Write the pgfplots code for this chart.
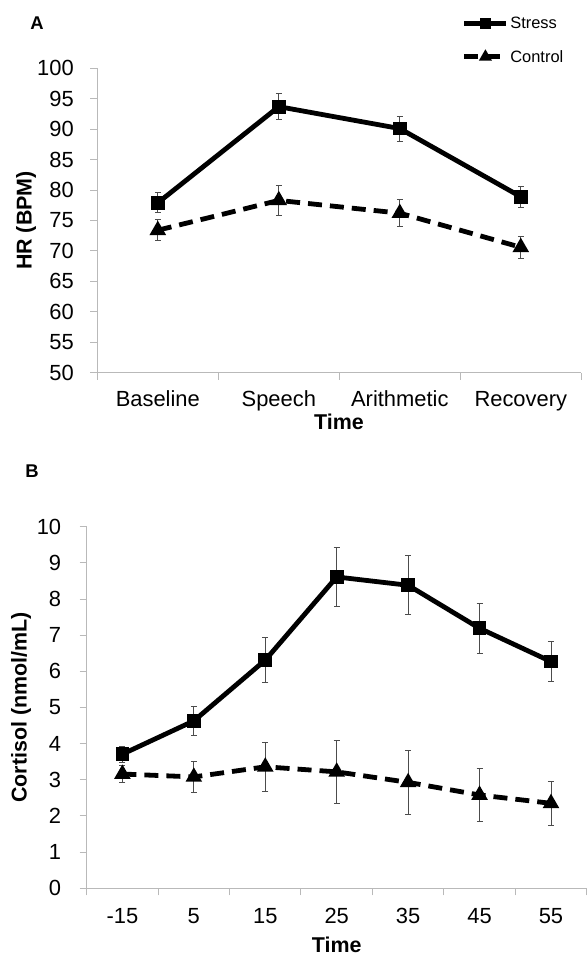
\documentclass[border=0pt]{standalone}
\usepackage{fontspec}
\setmainfont{Liberation Sans}
\usepackage{pgfplots}
\usepackage{pgfplotstable}
\pgfplotsset{compat=1.18}

% panel A: heart rate
\pgfplotstableread{
x y e
0 77.9 1.65
1 93.7 2.15
2 90.1 2.05
3 78.9 1.7
}\hrstress
\pgfplotstableread{
x y e
0 73.4 1.75
1 78.3 2.4
2 76.2 2.2
3 70.6 1.85
}\hrcontrol

% panel B: cortisol
\pgfplotstableread{
x y e
0 3.71 0.22
1 4.63 0.40
2 6.31 0.63
3 8.61 0.82
4 8.38 0.82
5 7.19 0.70
6 6.27 0.56
}\corstress
\pgfplotstableread{
x y e
0 3.16 0.23
1 3.08 0.44
2 3.36 0.67
3 3.22 0.88
4 2.93 0.88
5 2.58 0.74
6 2.35 0.60
}\corcontrol

\pgfplotsset{
  panel/.style={
    scale only axis, clip=false,
    axis x line*=bottom, axis y line*=left,
    axis line style={-, gray!55, line width=1bp},
    tick style={gray!55, line width=1bp},
    tick align=outside, major tick length=7bp,
    ticklabel style={font=\fontsize{22}{22}\selectfont},
    xticklabel style={anchor=base},
    yticklabel style={anchor=east},
    /pgf/number format/assume math mode=true,
    extra x tick style={major tick length=0pt},
  },
  stress/.style={black, line width=4.8bp, mark=square*, mark size=4.5bp,
    mark options={solid}},
  control/.style={black, line width=4.8bp, dash pattern=on 14bp off 8bp,
    mark=triangle*, mark size=4.8bp, mark options={solid}},
  ebar/.style={error bars/.cd, y dir=both, y explicit,
    error bar style={line width=0.9bp, black!70, solid},
    error mark options={rotate=90, mark size=3bp, line width=0.9bp, black!70, solid}},
}

\begin{document}
\begin{tikzpicture}
\path[use as bounding box] (0bp,0bp) rectangle (587bp,956bp);

\begin{axis}[panel,
  at={(97.3bp,583.3bp)}, anchor=south west, width=484bp, height=304.4bp,
  xmin=-0.5, xmax=3.5, ymin=50, ymax=100,
  ytick={50,55,...,100},
  xtick={-0.5,0.5,1.5,2.5,3.5}, xticklabels={},
  extra x ticks={0,1,2,3},
  extra x tick labels={Baseline,Speech,Arithmetic,Recovery},
  xticklabel style={yshift=-34bp},
  yticklabel style={xshift=-13bp},
  legend style={at={(0.747,1.18)}, anchor=north west, draw=none, fill=none,
    font=\fontsize{16.5}{16.5}\selectfont, row sep=17bp,
    nodes={inner sep=1.5bp}},
  legend cell align=left,
  legend image code/.code={\draw[#1, mark size=2.8bp, mark repeat=2, mark phase=2]
    plot coordinates {(0bp,0bp) (21bp,0bp) (42bp,0bp)};},
]
\addplot[stress, forget plot] table[x=x, y=y] {\hrstress};
\addplot[control, forget plot] table[x=x, y=y] {\hrcontrol};
\addplot[draw=none, mark=none, forget plot, ebar] table[x=x, y=y, y error=e] {\hrstress};
\addplot[draw=none, mark=none, forget plot, ebar] table[x=x, y=y, y error=e] {\hrcontrol};
\addlegendimage{stress}
\addlegendentry{Stress}
\addlegendimage{control}
\addlegendentry{Control}
\end{axis}

\begin{axis}[panel,
  at={(86.7bp,67.7bp)}, anchor=south west, width=500bp, height=361.6bp,
  xmin=-0.5, xmax=6.5, ymin=0, ymax=10,
  ytick={0,1,...,10},
  xtick={-0.5,0.5,...,6.5}, xticklabels={},
  extra x ticks={0,1,...,6},
  extra x tick labels={-15,5,15,25,35,45,55},
  xticklabel style={yshift=-35bp},
  yticklabel style={xshift=-15bp},
]
\addplot[stress] table[x=x, y=y] {\corstress};
\addplot[control] table[x=x, y=y] {\corcontrol};
\addplot[draw=none, mark=none, ebar] table[x=x, y=y, y error=e] {\corstress};
\addplot[draw=none, mark=none, ebar] table[x=x, y=y, y error=e] {\corcontrol};
\end{axis}

% panel letters and axis titles
\node[font=\bfseries\fontsize{18.5}{18.5}\selectfont] at (37bp,932.7bp) {A};
\node[font=\bfseries\fontsize{18.5}{18.5}\selectfont] at (32bp,485bp) {B};
\node[font=\bfseries\fontsize{21.5}{21.5}\selectfont, rotate=90] at (26bp,735.5bp) {HR (BPM)};
\node[font=\bfseries\fontsize{21.5}{21.5}\selectfont] at (339bp,534bp) {Time};
\node[font=\bfseries\fontsize{21.5}{21.5}\selectfont, rotate=90] at (21bp,248.5bp) {Cortisol (nmol/mL)};
\node[font=\bfseries\fontsize{21.5}{21.5}\selectfont] at (336.7bp,11bp) {Time};
\end{tikzpicture}
\end{document}
